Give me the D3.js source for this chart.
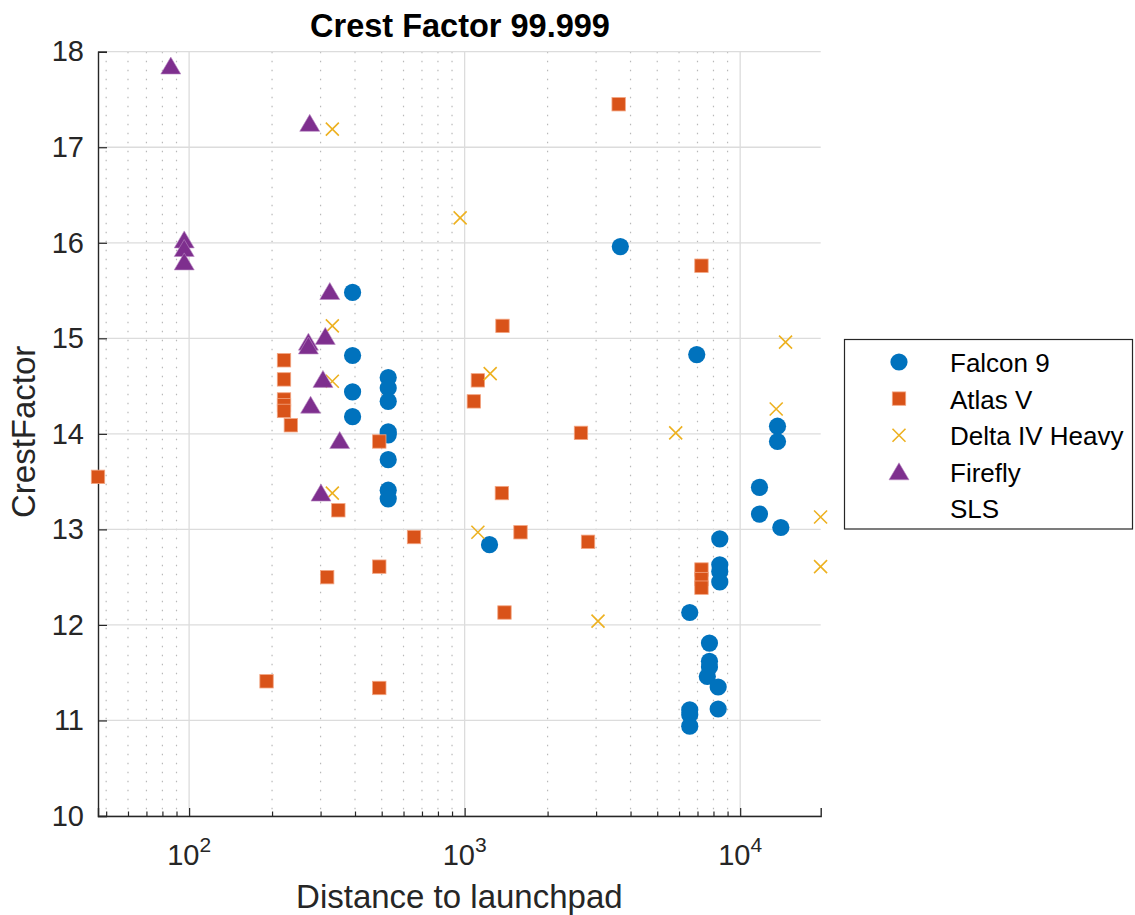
<!DOCTYPE html>
<html>
<head>
<meta charset="utf-8">
<script src="https://cdn.jsdelivr.net/npm/d3@7"></script>
<style>
  body { margin: 0; background: #fff; }
  svg { font-family: "Liberation Sans", Arial, Helvetica, sans-serif; }
</style>
</head>
<body>
<script>
// values: [distance, crest factor]
var seriesNames = ["Falcon 9", "Atlas V", "Delta IV Heavy", "Firefly", "SLS"];
var seriesColors = ["#0072BD", "#D95319", "#EDB120", "#7E2F8E", "#000000"];

var falcon9 = [
  [392, 15.48], [392, 14.82], [392, 14.44], [392, 14.18],
  [528, 14.59], [528, 14.48], [528, 14.34], [528, 14.02], [528, 13.99], [528, 13.73], [528, 13.41], [528, 13.32],
  [1231, 12.84], [3673, 15.96], [6957, 14.83], [13660, 14.08], [13660, 13.92],
  [11751, 13.44], [11751, 13.16], [14046, 13.02],
  [8433, 12.90], [8433, 12.63], [8433, 12.56], [8433, 12.45],
  [6561, 12.13], [7736, 11.81], [7736, 11.62], [7736, 11.56], [7600, 11.46],
  [8320, 11.35], [8320, 11.12], [6561, 11.11], [6561, 11.06], [6561, 10.94]
];
var atlasV = [
  [46.7, 13.55], [221, 14.77], [221, 14.57], [221, 14.36], [221, 14.30], [221, 14.24], [234, 14.09],
  [490, 13.92], [348, 13.20], [655, 12.92], [490, 12.61], [317, 12.50], [191, 11.41], [490, 11.34],
  [3622, 17.45], [7236, 15.76], [1372, 15.13], [1117, 14.56], [1080, 14.34], [2644, 14.01],
  [1365, 13.38], [1595, 12.97], [2804, 12.87], [7236, 12.58], [7236, 12.48], [7236, 12.39], [1395, 12.13]
];
var deltaIVHeavy = [
  [331, 17.19], [963, 16.26], [331, 15.13], [331, 14.55], [331, 13.38], [1238, 14.63],
  [14610, 14.96], [13513, 14.26], [5834, 14.01], [19580, 13.13], [1117, 12.97], [19580, 12.61], [3048, 12.04]
];
var firefly = [
  [85.8, 17.85], [274, 17.25], [96, 16.03], [96, 15.94], [96, 15.80], [324, 15.49],
  [271, 14.96], [271, 14.92], [312, 15.02], [306, 14.57], [276, 14.30], [352, 13.93], [301, 13.38]
];
var sls = [];

var xMajor = [100, 1000, 10000];
var xMinor = [50, 60, 70, 80, 90, 200, 300, 400, 500, 600, 700, 800, 900,
              2000, 3000, 4000, 5000, 6000, 7000, 8000, 9000];
var yTicks = [10, 11, 12, 13, 14, 15, 16, 17, 18];

var w = 1135;
var h = 915;
var plotL = 98, plotR = 820.7, plotT = 51.7, plotB = 816;

var svg = d3.select("body").append("svg").attr("width", w).attr("height", h);

var x = d3.scaleLog().domain([46.7, 19600]).range([plotL, plotR]);
var y = d3.scaleLinear().domain([10, 18]).range([plotB, plotT]);

// grid
var grid = svg.append("g");
grid.selectAll(".minor")
  .data(xMinor)
  .enter().append("line")
  .attr("x1", function(d) { return x(d); })
  .attr("x2", function(d) { return x(d); })
  .attr("y1", plotT).attr("y2", plotB)
  .attr("stroke", "#b8b8b8")
  .attr("stroke-width", 1.2)
  .attr("stroke-dasharray", "1.6,7.4");

grid.selectAll(".vmajor")
  .data(xMajor)
  .enter().append("line")
  .attr("x1", function(d) { return x(d); })
  .attr("x2", function(d) { return x(d); })
  .attr("y1", plotT).attr("y2", plotB)
  .attr("stroke", "#dcdcdc")
  .attr("stroke-width", 1.3);

grid.selectAll(".hmajor")
  .data(yTicks)
  .enter().append("line")
  .attr("x1", plotL).attr("x2", plotR)
  .attr("y1", function(d) { return y(d); })
  .attr("y2", function(d) { return y(d); })
  .attr("stroke", "#dcdcdc")
  .attr("stroke-width", 1.3);

// axes
svg.append("g")
  .attr("transform", "translate(0," + plotB + ")")
  .call(d3.axisBottom(x).tickValues(xMajor).tickSize(-8).tickFormat(""));

svg.append("g")
  .attr("transform", "translate(0," + plotB + ")")
  .call(d3.axisBottom(x).tickValues(xMinor).tickSize(-4.5).tickFormat(""))
  .select(".domain").remove();

var yAxis = svg.append("g")
  .attr("transform", "translate(" + plotL + ",0)")
  .call(d3.axisLeft(y).tickValues(yTicks).tickSize(-9).tickPadding(14));

svg.selectAll(".domain").attr("stroke", "#262626").attr("stroke-width", 1.4);
svg.selectAll(".tick line").attr("stroke", "#262626").attr("stroke-width", 1.2);

yAxis.selectAll("text")
  .attr("font-size", 29)
  .attr("fill", "#262626")
  .attr("font-family", "Liberation Sans, Arial, sans-serif");

// 10^n labels
var xl = svg.append("g").selectAll("text")
  .data(xMajor)
  .enter().append("text")
  .attr("x", function(d) { return x(d); })
  .attr("y", 865)
  .attr("text-anchor", "middle")
  .attr("fill", "#262626")
  .attr("font-size", 29);
xl.append("tspan").text("10");
xl.append("tspan")
  .attr("font-size", 21)
  .attr("dy", -13)
  .text(function(d) { return Math.round(Math.log10(d)); });

// labels
svg.append("text")
  .attr("x", (plotL + plotR) / 2)
  .attr("y", 908)
  .attr("text-anchor", "middle")
  .attr("font-size", 33)
  .attr("fill", "#262626")
  .text("Distance to launchpad");

svg.append("text")
  .attr("transform", "translate(35," + ((plotT + plotB) / 2 - 2) + ") rotate(-90)")
  .attr("text-anchor", "middle")
  .attr("font-size", 33)
  .attr("fill", "#262626")
  .text("CrestFactor");

svg.append("text")
  .attr("x", 460)
  .attr("y", 37)
  .attr("text-anchor", "middle")
  .attr("font-size", 32.5)
  .attr("font-weight", "bold")
  .attr("fill", "#000")
  .text("Crest Factor 99.999");

// markers
function drawMarker(g, kind, color) {
  if (kind == 0) {
    g.append("circle").attr("r", 8.6).attr("fill", color);
  } else if (kind == 1) {
    g.append("rect").attr("x", -6.7).attr("y", -6.7).attr("width", 13.4).attr("height", 13.4)
      .attr("fill", color).attr("stroke", "#f3a582").attr("stroke-width", 0.8);
  } else if (kind == 2) {
    g.append("path").attr("d", "M-6.5,-6.5L6.5,6.5M-6.5,6.5L6.5,-6.5")
      .attr("stroke", color).attr("stroke-width", 1.6).attr("fill", "none");
  } else if (kind == 3) {
    g.append("path").attr("d", "M0,-9L10,8L-10,8Z")
      .attr("fill", color).attr("stroke", "#b98ac2").attr("stroke-width", 0.6);
  }
}

var allSeries = [falcon9, atlasV, deltaIVHeavy, firefly, sls];
var plot = svg.append("g");
allSeries.forEach(function(data, i) {
  plot.append("g").selectAll("g")
    .data(data)
    .enter().append("g")
    .attr("transform", function(d) { return "translate(" + x(d[0]) + "," + y(d[1]) + ")"; })
    .each(function() { drawMarker(d3.select(this), i, seriesColors[i]); });
});

// legend
var legend = svg.append("g");
legend.append("rect")
  .attr("x", 844.5).attr("y", 339.5)
  .attr("width", 288).attr("height", 189.5)
  .attr("fill", "#fff")
  .attr("stroke", "#262626")
  .attr("stroke-width", 1.2);

var rows = legend.selectAll(".row")
  .data(seriesNames)
  .enter().append("g")
  .attr("transform", function(d, i) { return "translate(899," + (362 + i * 36.6) + ")"; });

rows.each(function(d, i) { drawMarker(d3.select(this), i, seriesColors[i]); });

rows.append("text")
  .attr("x", 51)
  .attr("y", 10)
  .attr("font-size", 26)
  .attr("fill", "#000")
  .text(function(d) { return d; });
</script>
</body>
</html>
